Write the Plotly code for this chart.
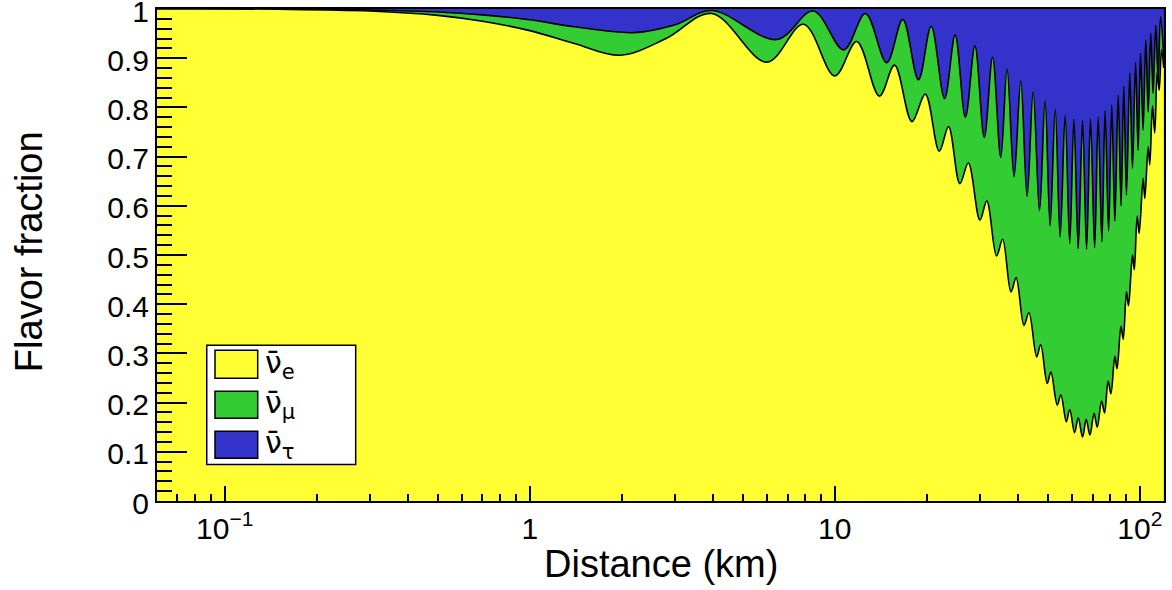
import math
import plotly.graph_objects as go

# ---------------- data ----------------
# upper boundary = fraction of nu_e + nu_mu (i.e. 1 - nu_tau fraction)
dist_upper = [0.06, 0.15, 0.3, 0.5, 0.7, 1.0, 1.4, 2.2, 3.0, 3.95, 6.46, 8.5, 10.7,
              12.6, 14.8, 16.7, 18.8, 20.7, 22.9, 24.8, 26.8, 28.8, 30.9, 32.9, 35.0,
              36.7, 38.7, 40.7, 42.7, 44.7, 46.9, 48.9, 50.8, 52.8, 54.8, 56.9, 58.9,
              60.8, 62.8, 64.9, 66.9, 68.9, 71.1, 73.0, 75.1, 76.9, 79.0, 80.9, 82.8,
              84.9, 86.8, 88.6, 90.4, 92.7, 94.6, 96.8, 98.7, 100.5, 102.5, 104.6,
              106.5, 108.6, 110.5, 112.8, 114.8, 116.9, 119.8]
frac_upper = [1.0, 0.9995, 0.998, 0.994, 0.988, 0.978, 0.964, 0.952, 0.968, 0.997, 0.938,
              0.996, 0.917, 0.991, 0.891, 0.979, 0.856, 0.965, 0.818, 0.947, 0.780, 0.925,
              0.739, 0.902, 0.698, 0.878, 0.659, 0.854, 0.619, 0.832, 0.590, 0.814, 0.559,
              0.796, 0.537, 0.784, 0.523, 0.776, 0.513, 0.773, 0.512, 0.776, 0.515, 0.780,
              0.527, 0.793, 0.549, 0.805, 0.569, 0.825, 0.600, 0.843, 0.622, 0.870, 0.676,
              0.891, 0.713, 0.910, 0.754, 0.937, 0.791, 0.951, 0.829, 0.967, 0.856, 0.984,
              0.900]

# lower boundary = fraction of nu_e (survival probability)
dist_lower = [0.06, 0.15, 0.3, 0.5, 0.7, 1.0, 1.4, 1.98, 2.8, 3.95, 5.99, 7.9, 10.0, 11.8,
              14.0, 15.7, 17.9, 19.8, 22.0, 23.6, 25.7, 27.4, 29.9, 31.5, 33.9, 35.5, 37.8,
              39.3, 41.7, 43.3, 45.9, 47.3, 49.7, 51.1, 53.6, 55.1, 57.4, 58.9, 61.1, 62.8,
              64.9, 66.7, 68.6, 70.8, 72.5, 74.9, 76.6, 78.7, 80.4, 82.8, 84.2, 86.7, 88.2,
              90.4, 91.8, 94.6, 95.9, 98.0, 99.5, 102.5, 103.8, 106.5, 107.8, 110.0, 111.9,
              114.0, 115.7, 117.8, 119.8]
frac_lower = [1.0, 0.9995, 0.996, 0.987, 0.975, 0.956, 0.930, 0.906, 0.940, 0.991, 0.892,
              0.969, 0.864, 0.934, 0.823, 0.886, 0.771, 0.827, 0.711, 0.761, 0.645, 0.687,
              0.571, 0.610, 0.498, 0.532, 0.425, 0.454, 0.357, 0.383, 0.293, 0.318, 0.239,
              0.262, 0.195, 0.216, 0.161, 0.186, 0.139, 0.169, 0.130, 0.166, 0.134, 0.178,
              0.150, 0.203, 0.179, 0.244, 0.218, 0.294, 0.269, 0.355, 0.329, 0.425, 0.397,
              0.500, 0.470, 0.579, 0.544, 0.656, 0.615, 0.720, 0.683, 0.803, 0.748, 0.872,
              0.835, 0.917, 0.880]

# total (all flavours) = 1
dist_total = [0.06, 120.0]
frac_total = [1.0, 1.0]

x_tick_vals = [0.1, 1, 10, 100]
x_tick_text = ["10<sup>\u22121</sup>", "1", "10", "10<sup>2</sup>"]
x_minor_vals = [0.07, 0.08, 0.09, 0.2, 0.3, 0.4, 0.5, 0.6, 0.7, 0.8, 0.9,
                2, 3, 4, 5, 6, 7, 8, 9, 20, 30, 40, 50, 60, 70, 80, 90]
y_tick_vals = [0, 0.1, 0.2, 0.3, 0.4, 0.5, 0.6, 0.7, 0.8, 0.9, 1.0]
y_tick_text = ["0", "0.1", "0.2", "0.3", "0.4", "0.5", "0.6", "0.7", "0.8", "0.9", "1"]

labels = ["\u03bd\u0304<sub>e</sub>", "\u03bd\u0304<sub>\u03bc</sub>", "\u03bd\u0304<sub>\u03c4</sub>"]

YELLOW = "#ffff33"
GREEN = "#33cc33"
BLUE = "#3333cc"
FONT = "Liberation Sans, Arial, Helvetica, sans-serif"
LEGFONT = "DejaVu Sans, Liberation Sans, sans-serif"

fig = go.Figure()
fig.add_trace(go.Scatter(x=dist_total, y=frac_total, mode="lines",
                         line=dict(color=BLUE, width=0), fill="tozeroy",
                         fillcolor=BLUE, name=labels[2], showlegend=False,
                         hoverinfo="skip"))
fig.add_trace(go.Scatter(x=dist_upper, y=frac_upper, mode="lines",
                         line=dict(color="black", width=1.6, shape="spline", smoothing=1),
                         fill="tozeroy", fillcolor=GREEN, name=labels[1], showlegend=False))
fig.add_trace(go.Scatter(x=dist_lower, y=frac_lower, mode="lines",
                         line=dict(color="black", width=1.6, shape="spline", smoothing=1),
                         fill="tozeroy", fillcolor=YELLOW, name=labels[0], showlegend=False))

# manual ROOT-style legend
shapes = [dict(type="rect", xref="paper", yref="paper", x0=0.0494, x1=0.1973,
               y0=0.0740, y1=0.3167, fillcolor="white", line=dict(color="black", width=1.5),
               layer="above")]
sw_y = [(0.2495, 0.3065), (0.1682, 0.2231), (0.0868, 0.1418)]
sw_col = [YELLOW, GREEN, BLUE]
annotations = []
for (y0, y1), c, lab in zip(sw_y, sw_col, labels):
    shapes.append(dict(type="rect", xref="paper", yref="paper", x0=0.0576, x1=0.1000,
                       y0=y0, y1=y1, fillcolor=c, line=dict(color="black", width=1.5),
                       layer="above"))
    annotations.append(dict(xref="paper", yref="paper", x=0.1053, y=(y0 + y1) / 2,
                            xanchor="left", yanchor="middle", showarrow=False, text=lab,
                            font=dict(family=LEGFONT, size=30, color="black")))

annotations.append(dict(xref="paper", yref="paper", x=0.5, y=-0.129, xanchor="center",
                        yanchor="middle", showarrow=False, text="Distance (km)",
                        font=dict(family=FONT, size=38, color="black")))
annotations.append(dict(xref="paper", yref="paper", x=-0.127, y=0.506, xanchor="center",
                        yanchor="middle", showarrow=False, text="Flavor fraction",
                        textangle=-90, font=dict(family=FONT, size=38, color="black")))

fig.update_layout(
    width=1172, height=590,
    margin=dict(l=157, r=8, t=9, b=89, autoexpand=False),
    paper_bgcolor="white", plot_bgcolor=BLUE,
    shapes=shapes, annotations=annotations,
    font=dict(family=FONT, color="black"),
    xaxis=dict(type="log", range=[math.log10(0.06), math.log10(120)], automargin=False,
               tickmode="array", tickvals=x_tick_vals, ticktext=x_tick_text,
               ticklabeloverflow="allow",
               ticks="inside", ticklen=15, tickwidth=1.5, tickcolor="black",
               showline=True, linecolor="black", linewidth=2, mirror=True,
               showgrid=False, zeroline=False,
               tickfont=dict(family=FONT, size=30, color="black"),
               minor=dict(tickmode="array", tickvals=x_minor_vals, ticks="inside",
                          ticklen=7.5, tickwidth=1.5, tickcolor="black", showgrid=False)),
    yaxis=dict(range=[0, 1], automargin=False,
               tickmode="array", tickvals=y_tick_vals, ticktext=y_tick_text,
               ticklabeloverflow="allow", ticklabelshift=2,
               ticks="inside", ticklen=30, tickwidth=1.5, tickcolor="black",
               showline=True, linecolor="black", linewidth=2, mirror=True,
               showgrid=False, zeroline=False,
               tickfont=dict(family=FONT, size=30, color="black"),
               minor=dict(tick0=0, dtick=0.02, ticks="inside", ticklen=15,
                          tickwidth=1.5, tickcolor="black", showgrid=False)),
)

fig.write_html("out.html",
               config={"displayModeBar": False},
               post_script="document.body.style.margin='0';"
                           "document.body.style.overflow='hidden';")
